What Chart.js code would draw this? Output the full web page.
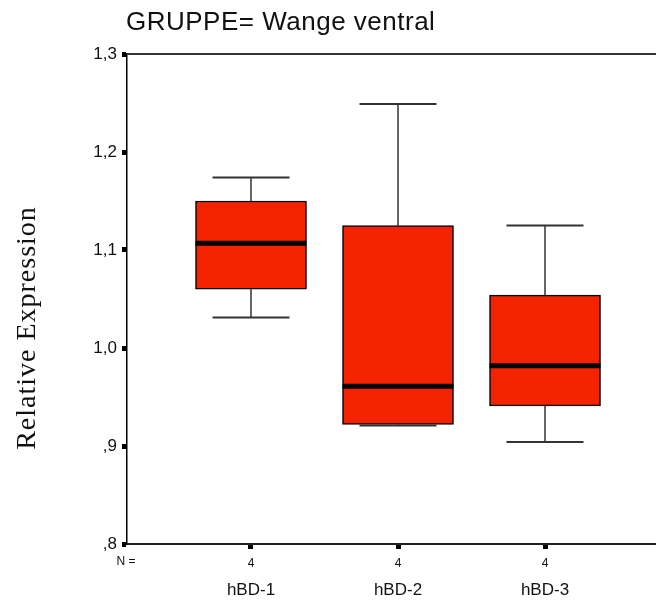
<!DOCTYPE html>
<html>
<head>
<meta charset="utf-8">
<script src="https://cdn.jsdelivr.net/npm/chart.js@4/dist/chart.umd.min.js"></script>
<style>
  html, body { margin: 0; padding: 0; background: #fff; overflow: hidden; }
  #wrap { width: 656px; height: 601px; position: relative; }
</style>
</head>
<body>
<div id="wrap"><canvas id="boxChart"></canvas></div>
<script>
const groups = ["hBD-1", "hBD-2", "hBD-3"];
const counts = [4, 4, 4];
const mins    = [1.031, 0.921, 0.904];
const q1s     = [1.060, 0.922, 0.941];
const medians = [1.107, 0.961, 0.982];
const q3s     = [1.150, 1.125, 1.054];
const maxs    = [1.174, 1.249, 1.125];
const yTicks  = [0.8, 0.9, 1.0, 1.1, 1.2, 1.3];

const FONT = "'Liberation Sans', Arial, sans-serif";

// whiskers, caps, medians and the extra text drawn on top of the bars
const boxExtras = {
  id: "boxExtras",
  afterDatasetsDraw(chart) {
    const { ctx, scales: { x, y }, chartArea } = chart;
    ctx.save();
    groups.forEach((g, i) => {
      const cx = x.getPixelForValue(i);
      const half = 55.5;
      const capHalf = 38.5;
      // whisker stems
      ctx.strokeStyle = "#000";
      ctx.lineWidth = 1.2;
      ctx.beginPath();
      ctx.moveTo(cx, y.getPixelForValue(q3s[i]));
      ctx.lineTo(cx, y.getPixelForValue(maxs[i]));
      ctx.moveTo(cx, y.getPixelForValue(q1s[i]));
      ctx.lineTo(cx, y.getPixelForValue(mins[i]));
      ctx.stroke();
      // caps
      ctx.strokeStyle = "#333";
      ctx.lineWidth = 2;
      [maxs[i], mins[i]].forEach(v => {
        const py = y.getPixelForValue(v);
        ctx.beginPath();
        ctx.moveTo(cx - capHalf, py);
        ctx.lineTo(cx + capHalf, py);
        ctx.stroke();
      });
      // median
      ctx.strokeStyle = "#000";
      ctx.lineWidth = 5;
      const my = y.getPixelForValue(medians[i]);
      ctx.beginPath();
      ctx.moveTo(cx - half, my);
      ctx.lineTo(cx + half, my);
      ctx.stroke();
    });

    // top frame line
    ctx.strokeStyle = "#333";
    ctx.lineWidth = 2;
    ctx.beginPath();
    ctx.moveTo(chartArea.left, chartArea.top);
    ctx.lineTo(chartArea.right, chartArea.top);
    ctx.stroke();

    // group names under the axis
    ctx.fillStyle = "#111";
    ctx.textAlign = "center";
    ctx.textBaseline = "middle";
    ctx.font = "17px " + FONT;
    groups.forEach((g, i) => {
      ctx.fillText(g, x.getPixelForValue(i), 590);
    });
    ctx.font = "12px " + FONT;
    ctx.fillText("N =", 126, 562);

    // title
    ctx.textAlign = "left";
    ctx.font = "26px " + FONT;
    ctx.letterSpacing = "0.5px";
    ctx.fillText("GRUPPE= Wange ventral", 126, 23);

    // y axis title
    ctx.translate(35, 328);
    ctx.rotate(-Math.PI / 2);
    ctx.textAlign = "center";
    ctx.textBaseline = "alphabetic";
    ctx.font = "28px 'Liberation Serif', 'Times New Roman', serif";
    ctx.letterSpacing = "1px";
    ctx.fillText("Relative Expression", 0, 0);
    ctx.restore();
  }
};

new Chart(document.getElementById("boxChart"), {
  type: "bar",
  data: {
    datasets: [{
      data: groups.map((g, i) => ({ x: i, y: [q1s[i], q3s[i]] })),
      backgroundColor: "#f52200",
      borderColor: "#000",
      borderWidth: 1.5,
      borderSkipped: false,
      barThickness: 111
    }]
  },
  options: {
    responsive: true,
    maintainAspectRatio: false,
    animation: false,
    layout: { padding: { top: 54, left: 0, right: 0, bottom: 0 } },
    plugins: {
      legend: { display: false },
      tooltip: { enabled: false }
    },
    scales: {
      x: {
        type: "linear",
        offset: false,
        min: -0.8435,
        max: 2.755,
        afterBuildTicks: s => { s.ticks = counts.map((c, i) => ({ value: i })); },
        afterFit: s => { s.height = 57; },
        ticks: {
          callback: (v) => String(counts[v]),
          font: { family: FONT, size: 12 },
          color: "#111",
          padding: 7,
          maxRotation: 0
        },
        grid: {
          offset: false,
          drawOnChartArea: false,
          tickLength: 5,
          tickWidth: 5,
          tickColor: "#000"
        },
        border: { color: "#222", width: 2 }
      },
      y: {
        min: 0.8,
        max: 1.3,
        afterBuildTicks: s => { s.ticks = yTicks.map(v => ({ value: v })); },
        afterFit: s => { s.width = 127; },
        ticks: {
          callback: v => v.toFixed(1).replace(".", ",").replace(/^0/, ""),
          font: { family: FONT, size: 17 },
          color: "#111",
          padding: 5
        },
        grid: {
          drawOnChartArea: false,
          tickLength: 5,
          tickWidth: 5,
          tickColor: "#000"
        },
        border: { color: "#000", width: 1.5 }
      }
    }
  },
  plugins: [boxExtras]
});
</script>
</body>
</html>
